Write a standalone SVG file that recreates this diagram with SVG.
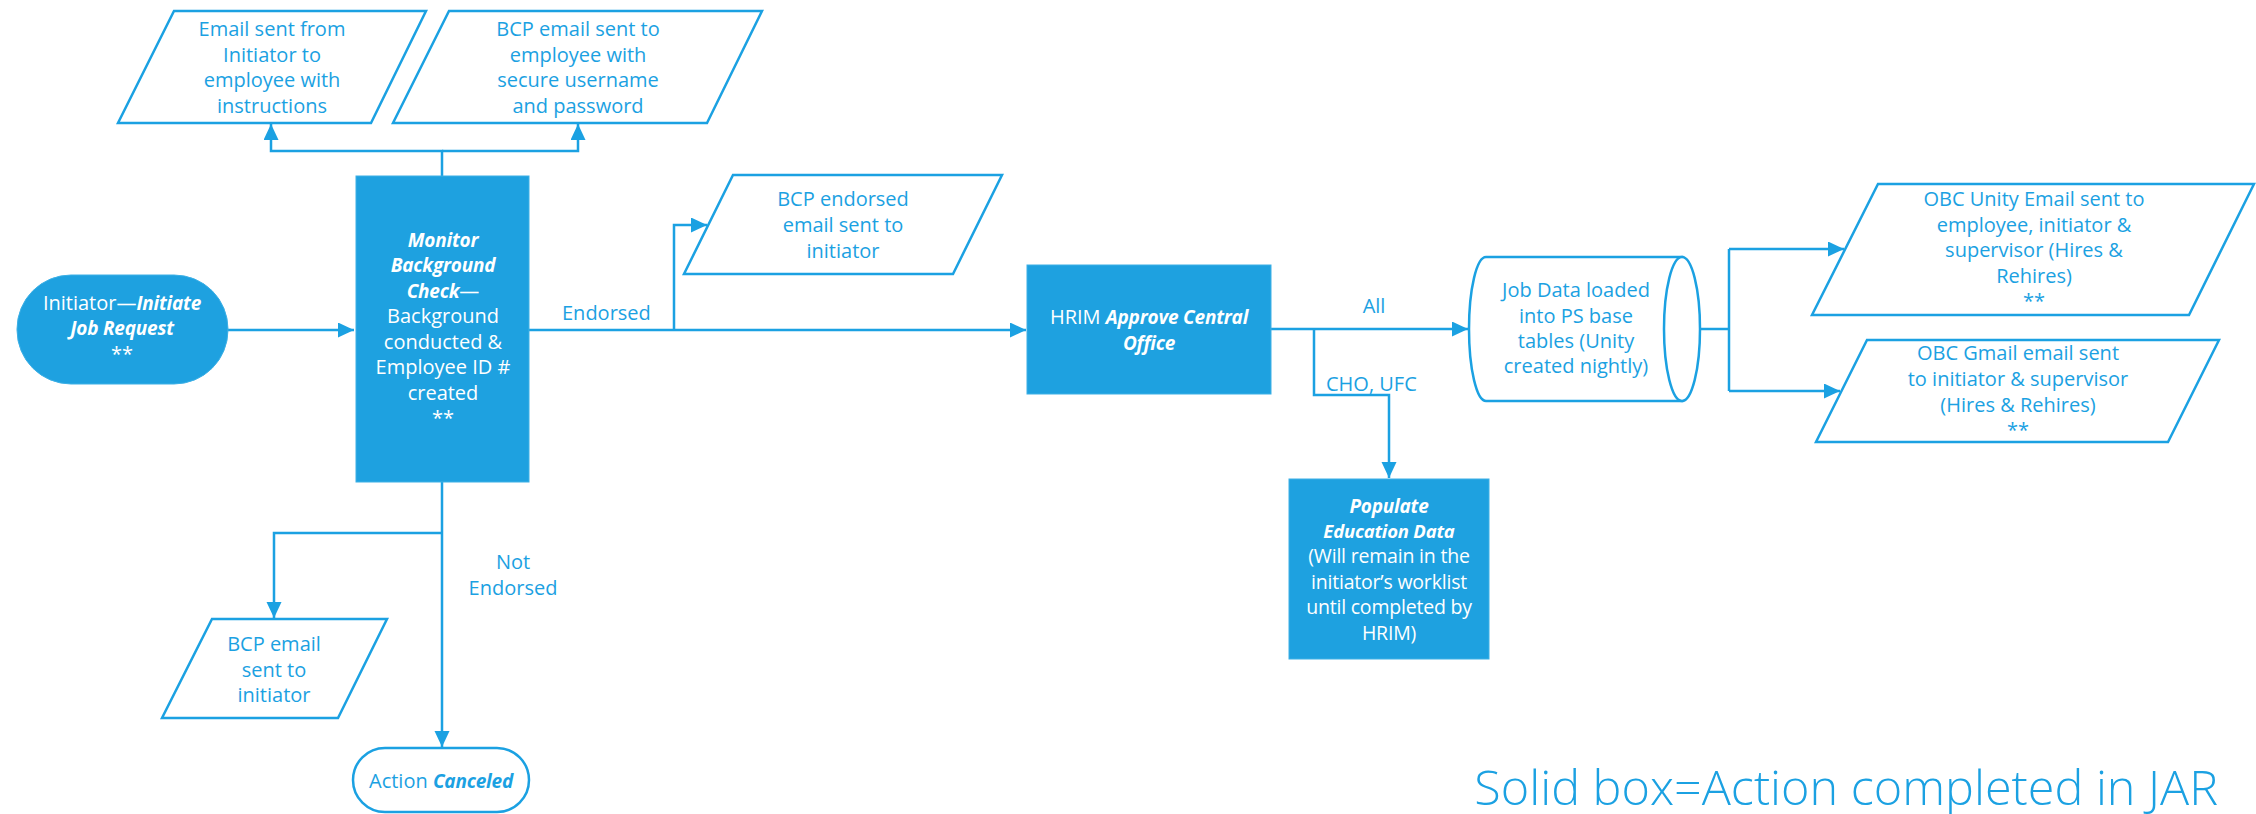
<svg xmlns="http://www.w3.org/2000/svg" width="2256" height="814" viewBox="0 0 2256 814">
<defs>
<style>
.sh{fill:#fff;stroke:#1BA1E2;stroke-width:2.5;stroke-linejoin:miter}
.sol{fill:#1EA1E0;stroke:#3DB0E6;stroke-width:1}
.t{font-family:"Open Sans","Noto Sans",sans-serif;font-size:20px;fill:#1BA1E2;text-anchor:middle}
.w{fill:#fff}
.bi{font-weight:bold;font-style:italic;font-size:19px;letter-spacing:-0.2px}
.ln{fill:none;stroke:#1BA1E2;stroke-width:2.5}
.lbl{font-family:"Open Sans","Noto Sans",sans-serif;font-size:20px;fill:#1BA1E2}
.pp{font-size:19.5px;letter-spacing:-0.2px}
</style>
<marker id="ah" markerUnits="userSpaceOnUse" markerWidth="17" markerHeight="16" refX="16" refY="7.5" orient="auto">
<path d="M0,0 L16,7.5 L0,15 z" fill="#1BA1E2"/>
</marker>
</defs>
<rect width="2256" height="814" fill="#fff"/>

<g id="connectors">
<path class="ln" d="M228,330 L354,330" marker-end="url(#ah)"/>
<path class="ln" d="M442,176 L442,151 L271,151 L271,124" marker-end="url(#ah)"/>
<path class="ln" d="M442,151 L578,151 L578,124" marker-end="url(#ah)"/>
<path class="ln" d="M529,330 L1026,330" marker-end="url(#ah)"/>
<path class="ln" d="M674,330 L674,225 L707,225" marker-end="url(#ah)"/>
<path class="ln" d="M442,482 L442,747" marker-end="url(#ah)"/>
<path class="ln" d="M442,533 L274,533 L274,618" marker-end="url(#ah)"/>
<path class="ln" d="M1271,329 L1468,329" marker-end="url(#ah)"/>
<path class="ln" d="M1314,329 L1314,395 L1389,395 L1389,478" marker-end="url(#ah)"/>
<path class="ln" d="M1700,329 L1729,329"/>
<path class="ln" d="M1729,249 L1729,391"/>
<path class="ln" d="M1729,249 L1844,249" marker-end="url(#ah)"/>
<path class="ln" d="M1729,391 L1840,391" marker-end="url(#ah)"/>
<text class="lbl" x="562" y="320">Endorsed</text>
<text class="t" x="513" y="569">Not</text>
<text class="t" x="513" y="595">Endorsed</text>
<text class="t" x="1374" y="313">All</text>
<text class="lbl" x="1326" y="391">CHO, UFC</text>
</g>

<g id="initiate">
<rect class="sol" x="17" y="275" width="211" height="109" rx="54" ry="54"/>
<text class="t w" x="122" y="310">Initiator—<tspan class="bi">Initiate</tspan></text>
<text class="t w bi" x="122" y="335">Job Request</text>
<text class="t w" x="122" y="361">**</text>
</g>

<g id="email-initiator">
<polygon class="sh" points="174,11 426,11 371,123 118,123"/>
<text class="t" x="272" y="36">Email sent from</text>
<text class="t" x="272" y="62">Initiator to</text>
<text class="t" x="272" y="87">employee with</text>
<text class="t" x="272" y="113">instructions</text>
</g>

<g id="bcp-email-employee">
<polygon class="sh" points="449,11 762,11 707,123 393,123"/>
<text class="t" x="578" y="36">BCP email sent to</text>
<text class="t" x="578" y="62">employee with</text>
<text class="t" x="578" y="87">secure username</text>
<text class="t" x="578" y="113">and password</text>
</g>

<g id="monitor">
<rect class="sol" x="356" y="176" width="173" height="306"/>
<text class="t w bi" x="443" y="247">Monitor</text>
<text class="t w bi" x="443" y="272">Background</text>
<text class="t w" x="443" y="298"><tspan class="bi">Check</tspan>—</text>
<text class="t w" x="443" y="323">Background</text>
<text class="t w" x="443" y="349">conducted &amp;</text>
<text class="t w" x="443" y="374">Employee ID #</text>
<text class="t w" x="443" y="400">created</text>
<text class="t w" x="443" y="425">**</text>
</g>

<g id="bcp-endorsed">
<polygon class="sh" points="733,175 1002,175 953,274 684,274"/>
<text class="t" x="843" y="206">BCP endorsed</text>
<text class="t" x="843" y="232">email sent to</text>
<text class="t" x="843" y="258">initiator</text>
</g>

<g id="bcp-not-endorsed">
<polygon class="sh" points="212,619 387,619 338,718 162,718"/>
<text class="t" x="274" y="651">BCP email</text>
<text class="t" x="274" y="677">sent to</text>
<text class="t" x="274" y="702">initiator</text>
</g>

<g id="canceled">
<rect class="sh" x="353" y="748" width="176" height="64" rx="32" ry="32"/>
<text class="t" x="441" y="788">Action <tspan class="bi">Canceled</tspan></text>
</g>

<g id="hrim">
<rect class="sol" x="1027" y="265" width="244" height="129"/>
<text class="t w" x="1149" y="324">HRIM <tspan class="bi">Approve Central</tspan></text>
<text class="t w bi" x="1149" y="350">Office</text>
</g>

<g id="populate">
<rect class="sol" x="1289" y="479" width="200" height="180"/>
<text class="t w bi" x="1389" y="513">Populate</text>
<text class="t w bi" x="1389" y="538" style="font-size:18.5px">Education Data</text>
<text class="t w pp" x="1389" y="563">(Will remain in the</text>
<text class="t w pp" x="1389" y="589">initiator’s worklist</text>
<text class="t w pp" x="1389" y="614">until completed by</text>
<text class="t w pp" x="1389" y="640">HRIM)</text>
</g>

<g id="job-data">
<path class="sh" d="M1486,257 L1682,257 L1682,401 L1486,401 A17,72 0 0 1 1486,257 Z"/>
<ellipse class="sh" cx="1682" cy="329" rx="18" ry="72"/>
<text class="t" x="1576" y="297">Job Data loaded</text>
<text class="t" x="1576" y="323">into PS base</text>
<text class="t" x="1576" y="348">tables (Unity</text>
<text class="t" x="1576" y="373">created nightly)</text>
</g>

<g id="obc-unity">
<polygon class="sh" points="1878,184 2254,184 2189,315 1812,315"/>
<text class="t" x="2034" y="206">OBC Unity Email sent to</text>
<text class="t" x="2034" y="232">employee, initiator &amp;</text>
<text class="t" x="2034" y="257">supervisor (Hires &amp;</text>
<text class="t" x="2034" y="283">Rehires)</text>
<text class="t" x="2034" y="308">**</text>
</g>

<g id="obc-gmail">
<polygon class="sh" points="1867,340 2219,340 2168,442 1816,442"/>
<text class="t" x="2018" y="360">OBC Gmail email sent</text>
<text class="t" x="2018" y="386">to initiator &amp; supervisor</text>
<text class="t" x="2018" y="412">(Hires &amp; Rehires)</text>
<text class="t" x="2018" y="437">**</text>
</g>

<g id="legend">
<text x="2218" y="805" font-family="'Open Sans','Noto Sans',sans-serif" font-size="48.5" font-weight="300" fill="#1BA1E2" text-anchor="end">Solid box=Action completed in JAR</text>
</g>
</svg>
